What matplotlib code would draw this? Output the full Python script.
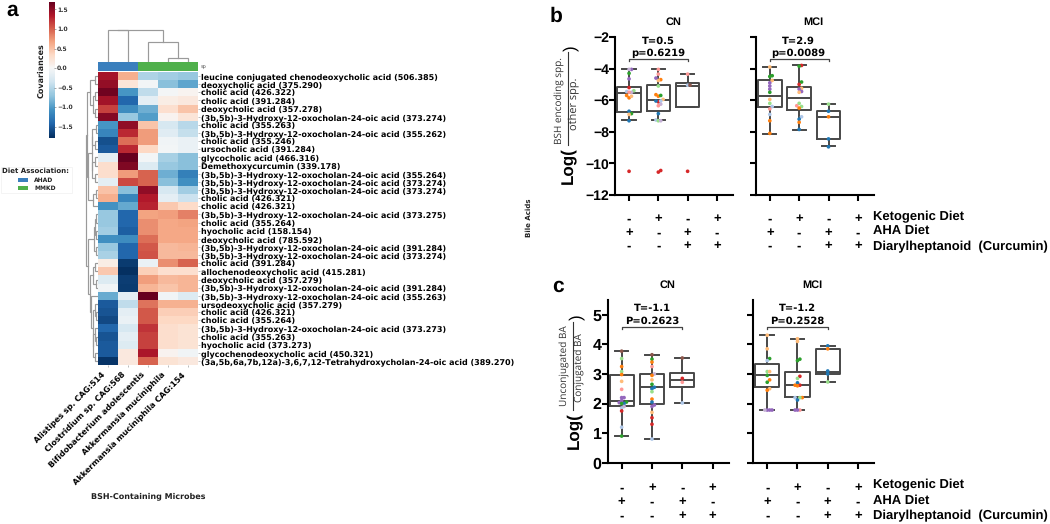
import numpy as np
import matplotlib
matplotlib.use("Agg")
import matplotlib.pyplot as plt
from matplotlib.colors import TwoSlopeNorm
from matplotlib.patches import Rectangle
from matplotlib.transforms import blended_transform_factory, ScaledTranslation

W, H = 1050, 524

# ---------- panel a data ----------
metabolites = [
    "leucine conjugated chenodeoxycholic acid (506.385)", "deoxycholic acid (375.290)",
    "cholic acid (426.322)", "cholic acid (391.284)", "deoxycholic acid (357.278)",
    "(3b,5b)-3-Hydroxy-12-oxocholan-24-oic acid (373.274)", "cholic acid (355.263)",
    "(3b,5b)-3-Hydroxy-12-oxocholan-24-oic acid (355.262)", "cholic acid (355.246)",
    "ursocholic acid (391.284)", "glycocholic acid (466.316)", "Demethoxycurcumin (339.178)",
    "(3b,5b)-3-Hydroxy-12-oxocholan-24-oic acid (355.264)",
    "(3b,5b)-3-Hydroxy-12-oxocholan-24-oic acid (373.274)",
    "(3b,5b)-3-Hydroxy-12-oxocholan-24-oic acid (373.274)", "cholic acid (426.321)",
    "cholic acid (426.321)", "(3b,5b)-3-Hydroxy-12-oxocholan-24-oic acid (373.275)",
    "cholic acid (355.264)", "hyocholic acid (158.154)", "deoxycholic acid (785.592)",
    "(3b,5b)-3-Hydroxy-12-oxocholan-24-oic acid (391.284)",
    "(3b,5b)-3-Hydroxy-12-oxocholan-24-oic acid (373.274)", "cholic acid (391.284)",
    "allochenodeoxycholic acid (415.281)", "deoxycholic acid (357.279)",
    "(3b,5b)-3-Hydroxy-12-oxocholan-24-oic acid (391.284)",
    "(3b,5b)-3-Hydroxy-12-oxocholan-24-oic acid (355.263)", "ursodeoxycholic acid (357.279)",
    "cholic acid (426.321)", "cholic acid (355.264)",
    "(3b,5b)-3-Hydroxy-12-oxocholan-24-oic acid (373.273)", "cholic acid (355.263)",
    "hyocholic acid (373.273)", "glycochenodeoxycholic acid (450.321)",
    "(3a,5b,6a,7b,12a)-3,6,7,12-Tetrahydroxycholan-24-oic acid (389.270)",
]
microbes = ["Alistipes sp. CAG:514", "Clostridium sp. CAG:568", "Bifidobacterium adolescentis",
            "Akkermansia muciniphila", "Akkermansia muciniphila CAG:154"]
diet_assoc = [0, 0, 1, 1, 1]
cov = [
    [1.40, 0.62, -0.55, -0.62, -0.68], [1.48, 0.22, -0.05, -0.75, -0.95],
    [1.65, -1.05, -0.45, -0.03, 0.05], [1.42, -1.42, -0.18, 0.12, 0.18],
    [1.15, -1.12, -0.88, 0.28, 0.48], [1.55, -0.68, -1.00, 0.06, 0.22],
    [-1.05, 1.50, 0.48, -0.30, -0.50], [-1.18, 1.28, 0.72, -0.22, -0.42],
    [-1.58, 0.95, 0.72, -0.06, -0.12], [-1.50, 1.28, 0.35, -0.05, -0.12],
    [-0.18, 1.69, -0.05, -0.60, -0.75], [0.30, 1.58, -0.25, -0.68, -0.75],
    [0.30, 0.72, 1.00, -0.88, -1.22], [-0.18, 1.12, 1.00, -0.75, -1.10],
    [0.50, -0.75, 1.50, -0.30, -0.62], [0.62, -1.18, 1.35, -0.18, -0.38],
    [-1.08, -0.92, 1.30, 0.45, 0.32], [-0.68, -1.42, 0.68, 0.70, 0.85],
    [-0.68, -1.42, 0.78, 0.65, 0.68], [-0.62, -1.48, 0.78, 0.65, 0.65],
    [-1.10, -1.12, 0.95, 0.65, 0.65], [-0.68, -1.42, 1.05, 0.55, 0.58],
    [-0.58, -1.42, 1.08, 0.55, 0.55], [0.12, -1.72, -0.12, 0.78, 1.00],
    [0.45, -1.79, 0.40, 0.28, 0.28], [-0.25, -1.70, 0.70, 0.55, 0.58],
    [-0.06, -1.72, 0.58, 0.48, 0.58], [-0.90, -0.18, 1.69, -0.06, -0.25],
    [-1.50, -0.45, 0.92, 0.60, 0.60], [-1.55, -0.18, 1.05, 0.42, 0.42],
    [-1.62, -0.12, 1.05, 0.35, 0.35], [-1.42, -0.30, 1.22, 0.30, 0.25],
    [-1.55, -0.18, 1.15, 0.30, 0.25], [-1.50, -0.25, 1.15, 0.30, 0.25],
    [-1.50, 0.18, 1.38, 0.06, -0.06], [-1.75, 0.18, 1.00, 0.25, 0.18],
]
col_tree = (32, (32, 0, 1), (20, 2, (4, 3, 4)))
row_upper = (11, (7.5, (2.5, 0, 1), (5, (2.5, 2, 3), (2.5, 4, 5))),
             (10, (6, (5.5, (2, 6, 7), (3, 8, 9)), (5.5, (3, 10, 11), (3, 12, 13))),
              (5, (2, 14, 15), 16)))
row_lower = (9.5, (3.2, (2.2, (1.5, 17, 18), (1.2, 19, 20)), (1.8, 21, 22)),
             (8, (5, (3, 23, 24), (2, 25, 26)),
              (7, 27, (5, (2.5, 28, (2, 29, 30)),
                       (4.5, (2.5, 31, (1.8, 32, 33)), (3, 34, 35))))))
row_tree = (11.5, row_upper, row_lower)

# ---------- panels b, c data: values and subject-colour index per box ----------
pal = ['#1f77b4', '#ff7f0e', '#2ca02c', '#d62728', '#9467bd', '#8c564b',
       '#aec7e8', '#ffbb78', '#98df8a', '#ff9896', '#c5b0d5']
b_cn_stats = [(-7.27, -6.75, -5.52, -5.16, -4.05), (-7.27, -6.68, -5.97, -5.06, -4.00),
              (-6.43, -6.43, -5.10, -4.89, -4.36)]
b_mci_stats = [(-8.12, -6.43, -5.71, -4.74, -3.90), (-7.86, -6.64, -5.86, -5.16, -3.80),
               (-8.92, -8.48, -7.06, -6.66, -6.24)]
c_cn_stats = [(0.91, 1.92, 2.10, 2.97, 3.78), (0.80, 2.00, 2.55, 2.99, 3.65),
              (2.02, 2.55, 2.80, 3.04, 3.54)]
c_mci_stats = [(1.78, 2.55, 2.95, 3.32, 4.31), (1.78, 2.22, 2.63, 3.06, 4.19),
               (2.73, 3.00, 3.08, 3.85, 3.95)]

b_cn1_v = [-4.05, -4.05, -4.3, -4.65, -5.2, -5.4, -5.45, -5.5, -5.5, -5.7, -5.85, -5.75, -6.7, -6.85, -6.9, -7.3, -10.5]
b_cn1_g = [4, 10, 2, 4, 3, 8, 6, 10, 9, 1, 1, 7, 0, 2, 7, 0, 3]
b_cn2_v = [-4.05, -4.35, -4.7, -4.75, -4.6, -5.1, -5.65, -5.75, -5.7, -5.95, -6.1, -6.05, -6.05, -6.25, -6.35, -6.85, -7.25, -7.3, -7.3, -10.45, -10.55]
b_cn2_g = [9, 9, 1, 7, 4, 8, 1, 1, 2, 7, 3, 0, 6, 10, 9, 0, 6, 8, 10, 3, 3]
b_cn3_v = [-4.35, -5.05, -5.05, -10.5]
b_cn3_g = [9, 6, 5, 3]
b_mci1_v = [-3.9, -4.45, -4.5, -4.75, -4.9, -5.1, -5.3, -5.5, -5.95, -6.2, -6.4, -6.55, -6.9, -7.3, -8.1]
b_mci1_g = [7, 2, 2, 7, 4, 4, 4, 2, 7, 8, 6, 9, 6, 1, 1]
b_mci2_v = [-3.8, -3.85, -4.85, -5.0, -5.25, -5.3, -5.45, -5.5, -6.2, -6.35, -6.4, -6.5, -7.05, -7.2, -7.4, -7.85]
b_mci2_g = [3, 2, 2, 3, 7, 4, 4, 7, 8, 9, 8, 1, 6, 0, 1, 0]
b_mci3_v = [-6.25, -6.7, -7.05, -8.45, -8.95]
b_mci3_g = [8, 0, 1, 0, 0]
c_cn1_v = [3.77, 3.52, 3.08, 3.25, 2.98, 2.75, 2.48, 2.2, 2.2, 2.1, 2.05, 2.03, 2.0, 2.0, 1.9, 1.85, 1.75, 1.2, 0.9]
c_cn1_g = [5, 8, 8, 1, 1, 7, 9, 4, 4, 4, 2, 4, 0, 2, 10, 6, 3, 6, 2]
c_cn2_v = [3.65, 3.5, 3.4, 3.25, 3.0, 2.95, 2.8, 2.65, 2.55, 2.5, 2.4, 2.15, 2.05, 1.95, 1.9, 1.7, 1.52, 1.3, 0.8]
c_cn2_g = [5, 2, 1, 9, 10, 1, 7, 2, 0, 0, 8, 1, 0, 4, 4, 7, 3, 3, 6]
c_cn3_v = [3.54, 2.85, 2.72, 2.02]
c_cn3_g = [5, 3, 9, 6]
c_mci1_v = [4.31, 3.85, 3.52, 3.45, 3.08, 3.08, 2.95, 2.8, 2.72, 2.5, 2.45, 1.78, 1.78, 1.78, 1.78]
c_mci1_g = [7, 7, 2, 6, 8, 7, 2, 1, 2, 7, 1, 4, 4, 4, 10]
c_mci2_v = [4.19, 4.1, 3.5, 3.45, 2.92, 2.85, 2.7, 2.62, 2.62, 2.6, 2.2, 2.2, 2.2, 2.12, 1.78, 1.78, 1.78]
c_mci2_g = [7, 7, 2, 2, 3, 8, 0, 1, 3, 1, 6, 1, 8, 0, 9, 4, 4]
c_mci3_v = [3.95, 3.85, 3.1, 3.0, 2.73]
c_mci3_g = [0, 1, 0, 0, 8]

keto = ['-', '+', '-', '+']
aha = ['+', '-', '+', '-']
curc = ['-', '-', '+', '+']
row_names = ["Ketogenic Diet", "AHA Diet", "Diarylheptanoid  (Curcumin)"]

# ---------- helpers ----------
plt.rcParams['text.hinting'] = 'no_hinting'
plt.rcParams['text.hinting_factor'] = 1
fig = plt.figure(figsize=(W / 100, H / 100), dpi=100, facecolor='white')
ARIAL = 'Liberation Sans'
DV = 'DejaVu Sans'
OS = 'Open Sans'


def axpx(x0, y0, x1, y1, **kw):
    return fig.add_axes([x0 / W, 1 - y1 / H, (x1 - x0) / W, (y1 - y0) / H], **kw)


def T(x, y, s, size, family=DV, weight='bold', ha='center', va='center', rot=0, color='black'):
    fig.text(x / W, 1 - y / H, s, fontsize=size, family=family, weight=weight,
             ha=ha, va=va, rotation=rot, color=color)


# ---------- panel a ----------
hx0, hx1, hy0, hy1 = 98, 198, 72, 365
cm = plt.get_cmap('RdBu_r')
norm = TwoSlopeNorm(0, -1.79, 1.69)
ax = axpx(hx0, hy0, hx1, hy1)
data = np.array(cov)
ax.pcolormesh(np.arange(6), np.arange(37), data, cmap=cm, norm=norm)
ax.set_xlim(0, 5)
ax.set_ylim(36, 0)
ax.yaxis.tick_right()
ax.set_yticks(np.arange(36) + 0.5, metabolites, fontsize=5.68, family=DV, weight='bold')
ax.set_xticks(np.arange(5) + 0.5, microbes, fontsize=5.6, family=DV, weight='bold',
              rotation=45, ha='right', rotation_mode='anchor')
ax.tick_params(axis='both', length=1.5, width=0.4, color='#888888', pad=1)
shift = ScaledTranslation(-7 / 100, -2 / 100, fig.dpi_scale_trans)
for lab in ax.get_xticklabels():
    lab.set_transform(lab.get_transform() + shift)
for s in ax.spines.values():
    s.set_visible(False)

strip = axpx(hx0, 62, hx1, 71)
diet_cols = ['#3a7fbd', '#4fb04b']
for i, d in enumerate(diet_assoc):
    strip.add_patch(Rectangle((i, 0), 1, 1, color=diet_cols[d], lw=0))
strip.set_xlim(0, 5)
strip.set_ylim(0, 1)
strip.axis('off')
T(201, 67, 'sp', 3.6, weight='normal', ha='left', color='#555555')


def draw_tree(node, ax, vertical):
    if not isinstance(node, tuple):
        return node + 0.5, 0.0
    h, l, r = node
    pl, hl = draw_tree(l, ax, vertical)
    pr, hr = draw_tree(r, ax, vertical)
    xs, ys = [pl, pl, pr, pr], [hl, h, h, hr]
    if vertical:
        ax.plot(xs, ys, color='#9a9a9a', lw=0.85, solid_joinstyle='miter')
    else:
        ax.plot(ys, xs, color='#9a9a9a', lw=0.85, solid_joinstyle='miter')
    return (pl + pr) / 2, h


dc = axpx(hx0, 28, hx1, 62)
draw_tree(col_tree, dc, True)
dc.set_xlim(0, 5)
dc.set_ylim(0, 34)
dc.axis('off')

dr = axpx(85, hy0, 97.5, hy1)
draw_tree(row_tree, dr, False)
dr.set_xlim(12.5, 0)
dr.set_ylim(36, 0)
dr.axis('off')

cb = axpx(49, 2, 54, 138)
grad = np.linspace(-1.79, 1.69, 256).reshape(-1, 1)
cb.imshow(grad, aspect='auto', cmap=cm, norm=norm, origin='lower', extent=(0, 1, -1.79, 1.69))
cb.set_xticks([])
cb.yaxis.tick_right()
cb_ticks = [-1.5, -1.0, -0.5, 0.0, 0.5, 1.0, 1.5]
cb.set_yticks(cb_ticks, ['\u22121.5', '\u22121.0', '\u22120.5', '0.0', '0.5', '1.0', '1.5'],
              fontsize=4.3, family=DV, weight='bold', color='#333333')
cb.tick_params(length=1.2, width=0.4, pad=1, color='#666666')
for s in cb.spines.values():
    s.set_visible(False)
T(41, 71, 'Covariances', 5.6, rot=90, color='#222222')

fig.add_artist(Rectangle((1 / W, 1 - 193 / H), 71 / W, 26 / H, transform=fig.transFigure,
                         fc='white', ec='#f0f0f0', lw=0.5))
T(35, 171, 'Diet Association:', 4.9, color='#222222')
for yy, name, c in [(180, 'AHAD', diet_cols[0]), (188, 'MMKD', diet_cols[1])]:
    fig.add_artist(Rectangle((18 / W, 1 - (yy + 2) / H), 10 / W, 4 / H, transform=fig.transFigure,
                             fc=c, ec='none'))
    T(34, yy, name, 4.3, ha='left', color='#222222')
T(148, 496, 'BSH-Containing Microbes', 5.9, color='#222222')
T(529, 218, 'Bile Acids', 4.9, rot=90, color='#222222')
T(12, 15.5, 'a', 15, family=ARIAL, weight='bold', va='baseline')
T(556.5, 22, 'b', 15, family=ARIAL, weight='bold', va='baseline')
T(558, 292, 'c', 15, family=ARIAL, weight='bold', va='baseline')


# ---------- panels b, c ----------
def swarm(vals, scale, d=3.0):
    placed = []
    out = {}
    for i in np.argsort(vals):
        yp = vals[i] * scale
        for k in [0, 1, -1, 2, -2, 3, -3, 4, -4]:
            xp = k * d * 0.8
            if all((xp - a) ** 2 + (yp - b) ** 2 >= (d * 0.8) ** 2 for a, b in placed):
                break
        placed.append((xp, yp))
        out[i] = xp
    return np.array([out[i] for i in range(len(vals))])


def box_panel(box, ylim, yticks, ticklabels, stats, groups, xlim, fs, rows_y, title, title_xy,
              ann, ann_xy, br_y, br_x):
    x0, y0, x1, y1 = box
    ax = axpx(x0, y0, x1, y1)
    ax.set_xlim(*xlim)
    ax.set_ylim(*ylim)
    ax.patch.set_alpha(0)
    xunit = (x1 - x0) / (xlim[1] - xlim[0])
    yunit = (y1 - y0) / (ylim[1] - ylim[0])
    bxp = [dict(whislo=s[0], q1=s[1], med=s[2], q3=s[3], whishi=s[4], fliers=[]) for s in stats]
    st = dict(color='#484848', linewidth=1.4)
    ax.bxp(bxp, positions=[1, 2, 3], widths=0.8, showfliers=False, manage_ticks=False,
           boxprops=st, medianprops=st, whiskerprops=st, capprops=st, capwidths=0.45)
    for pos, (v, g) in enumerate(groups, start=1):
        v = np.array(v)
        off = swarm(v, yunit) / xunit
        ax.scatter(pos + off, v, s=7, c=[pal[i] for i in g], linewidths=0, zorder=5)
    for name in ('top', 'right'):
        ax.spines[name].set_visible(False)
    for name in ('left', 'bottom'):
        ax.spines[name].set_linewidth(1.5)
    ax.set_xticks([1, 2, 3, 4], [])
    ax.set_yticks(yticks, ticklabels, fontsize=fs, family=ARIAL, weight='bold')
    ax.tick_params(axis='both', length=4, width=1.5, pad=0.3)
    T(title_xy[0], title_xy[1], title, 8.2, family=ARIAL)
    T(ann_xy[0], ann_xy[1], ann[0], 7.4)
    T(ann_xy[0], ann_xy[2], ann[1], 7.4)
    trans = blended_transform_factory(ax.transData, fig.transFigure)
    ax.plot([br_x[0], br_x[0], br_x[1], br_x[1]],
            [1 - (br_y + 2) / H, 1 - br_y / H, 1 - br_y / H, 1 - (br_y + 2) / H],
            transform=trans, color='#444444', lw=0.9, clip_on=False)
    for marks, ry in zip((keto, aha, curc), rows_y):
        for i, m in enumerate(marks, start=1):
            ax.text(i, 1 - ry / H, m, transform=trans, ha='center', va='center',
                    family=ARIAL, weight='bold', fontsize=9.5, clip_on=False)
    return ax


by = [-2, -4, -6, -8, -10, -12]
bl = ['\u22122', '\u22124', '\u22126', '\u22128', '\u221210', '\u221212']
cy = [0, 1, 2, 3, 4, 5]
cl = ['0', '1', '2', '3', '4', '5']
rows_b = (219, 233, 246)
rows_c = (488, 502, 516)

box_panel((615, 37, 733, 195), (-12, -2), by, bl, b_cn_stats,
          [(b_cn1_v, b_cn1_g), (b_cn2_v, b_cn2_g), (b_cn3_v, b_cn3_g)], (0.52, 4.55), 10.0,
          rows_b, 'CN', (673, 22), ('T=0.5', 'p=0.6219'), (658, 41, 53), 59, (1, 3))
box_panel((755.7, 37, 874, 195), (-12, -2), by, [], b_mci_stats,
          [(b_mci1_v, b_mci1_g), (b_mci2_v, b_mci2_g), (b_mci3_v, b_mci3_g)], (0.52, 4.55), 10.0,
          rows_b, 'MCI', (813, 22), ('T=2.9', 'p=0.0089'), (798, 41, 53), 59, (1, 3))
box_panel((607.7, 300, 728.7, 462.7), (0, 5.5), cy, cl, c_cn_stats,
          [(c_cn1_v, c_cn1_g), (c_cn2_v, c_cn2_g), (c_cn3_v, c_cn3_g)], (0.54, 4.53), 11.5,
          rows_c, 'CN', (667, 285), ('T=-1.1', 'P=0.2623'), (652, 308.7, 321), 326.5, (1, 3))
box_panel((752.7, 300, 874, 462.7), (0, 5.5), cy, [], c_mci_stats,
          [(c_mci1_v, c_mci1_g), (c_mci2_v, c_mci2_g), (c_mci3_v, c_mci3_g)], (0.52, 4.53), 11.5,
          rows_c, 'MCI', (812, 285), ('T=-1.2', 'P=0.2528'), (797, 308.7, 321), 326.5, (1, 3))

for name, yy in zip(row_names, (217, 231, 247)):
    T(873, yy, name, 9.1, family=ARIAL, ha='left')
for name, yy in zip(row_names, (485, 501, 516)):
    T(873, yy, name, 9.3, family=ARIAL, ha='left')

T(568, 166, 'Log(', 12.5, family=ARIAL, rot=90)
T(560, 101, 'BSH encoding spp.', 7.4, family=OS, weight='normal', rot=90, color='#333333')
T(574, 104, 'other spp.', 7.8, family=OS, weight='normal', rot=90, color='#333333')
fig.add_artist(plt.Line2D([567.5 / W, 567.5 / W], [1 - 145 / H, 1 - 52 / H], color='#333333', lw=0.8))
T(571, 48, ')', 12.5, family=ARIAL, weight='normal', rot=90)

T(573.5, 431, 'Log(', 12.5, family=ARIAL, rot=90)
T(565, 366, 'Unconjugated BA', 7.4, family=OS, weight='normal', rot=90, color='#333333')
T(580, 368, 'Conjugated BA', 7.4, family=OS, weight='normal', rot=90, color='#333333')
fig.add_artist(plt.Line2D([572.5 / W, 572.5 / W], [1 - 410 / H, 1 - 322 / H], color='#333333', lw=0.8))
T(577, 317, ')', 12.5, family=ARIAL, weight='normal', rot=90)

fig.savefig('out.png', dpi=100)
